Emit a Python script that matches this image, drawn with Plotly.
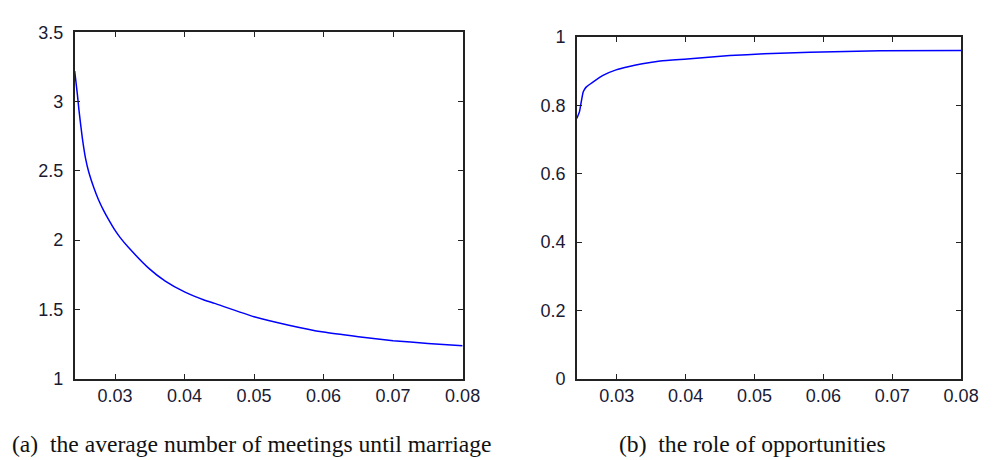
import plotly.graph_objects as go

x_left = [0.02419, 0.02458, 0.02480, 0.02528, 0.02575, 0.02622, 0.02693, 0.02763,
          0.02834, 0.02905, 0.03000, 0.03071, 0.03188, 0.03486, 0.03722, 0.04006,
          0.04289, 0.04431, 0.05, 0.055, 0.06, 0.065, 0.07, 0.075, 0.08]
y_left = [3.22, 3.05, 2.94, 2.74, 2.59, 2.49, 2.38, 2.29,
          2.215, 2.15, 2.07, 2.02, 1.95, 1.796, 1.704, 1.624,
          1.566, 1.543, 1.447, 1.386, 1.336, 1.303, 1.274, 1.254, 1.237]

x_right = [0.0242, 0.02458, 0.02491, 0.02515, 0.02562, 0.02658, 0.02800, 0.02990,
           0.03181, 0.03371, 0.03632, 0.04022, 0.04640, 0.05139, 0.05805, 0.06825, 0.08]
y_right = [0.762, 0.781, 0.818, 0.841, 0.855, 0.869, 0.888, 0.904,
           0.914, 0.922, 0.930, 0.936, 0.946, 0.951, 0.956, 0.960, 0.961]

x_ticks = [0.03, 0.04, 0.05, 0.06, 0.07, 0.08]
x_ticklabels = ["0.03", "0.04", "0.05", "0.06", "0.07", "0.08"]
yl_ticks = [1, 1.5, 2, 2.5, 3, 3.5]
yl_ticklabels = ["1", "1.5", "2", "2.5", "3", "3.5"]
yr_ticks = [0, 0.2, 0.4, 0.6, 0.8, 1]
yr_ticklabels = ["0", "0.2", "0.4", "0.6", "0.8", "1"]

caption_a = "(a)  the average number of meetings until marriage"
caption_b = "(b)  the role of opportunities"

W, H = 994, 460
fig = go.Figure()
fig.add_trace(go.Scatter(x=x_left, y=y_left, mode="lines", xaxis="x", yaxis="y",
                         line=dict(color="#0000ff", width=1.5, shape="spline", smoothing=0.5),
                         showlegend=False))
fig.add_trace(go.Scatter(x=x_right, y=y_right, mode="lines", xaxis="x2", yaxis="y2",
                         line=dict(color="#0000ff", width=1.5, shape="spline", smoothing=0.5),
                         showlegend=False))

tickfont = dict(family="Liberation Sans, Arial, sans-serif", size=18, color="#1a1a33")
axcommon = dict(showline=True, linecolor="#222222", linewidth=1.6, mirror="ticks",
                ticks="inside", ticklen=5, tickwidth=1.2, tickcolor="#222222",
                showgrid=False, zeroline=False, tickfont=tickfont, fixedrange=True)

fig.update_layout(
    width=W, height=H,
    margin=dict(l=0, r=0, t=0, b=0),
    paper_bgcolor="white", plot_bgcolor="white",
    xaxis=dict(domain=[68 / W, 463 / W], range=[0.0242, 0.08], anchor="y",
               tickvals=x_ticks, ticktext=x_ticklabels, **axcommon),
    yaxis=dict(domain=[(H - 377) / H, (H - 15) / H], range=[1, 3.5], anchor="x",
               tickvals=yl_ticks, ticktext=yl_ticklabels, ticklabelstandoff=6, **axcommon),
    xaxis2=dict(domain=[579.3 / W, 970.7 / W], range=[0.0242, 0.08], anchor="y2",
                tickvals=x_ticks, ticktext=x_ticklabels, **axcommon),
    yaxis2=dict(domain=[(H - 377) / H, (H - 20) / H], range=[0, 1], anchor="x2",
                tickvals=yr_ticks, ticktext=yr_ticklabels, ticklabelstandoff=6, **axcommon),
)

capfont = dict(family="Liberation Serif, Times New Roman, serif", size=23.6, color="#111111")
fig.add_annotation(text=caption_a, xref="paper", yref="paper", x=249 / W, y=(H - 445) / H,
                   xanchor="center", yanchor="middle", showarrow=False, font=capfont)
fig.add_annotation(text=caption_b, xref="paper", yref="paper", x=758 / W, y=(H - 445) / H,
                   xanchor="center", yanchor="middle", showarrow=False, font=capfont)

fig.write_html("out.html")
